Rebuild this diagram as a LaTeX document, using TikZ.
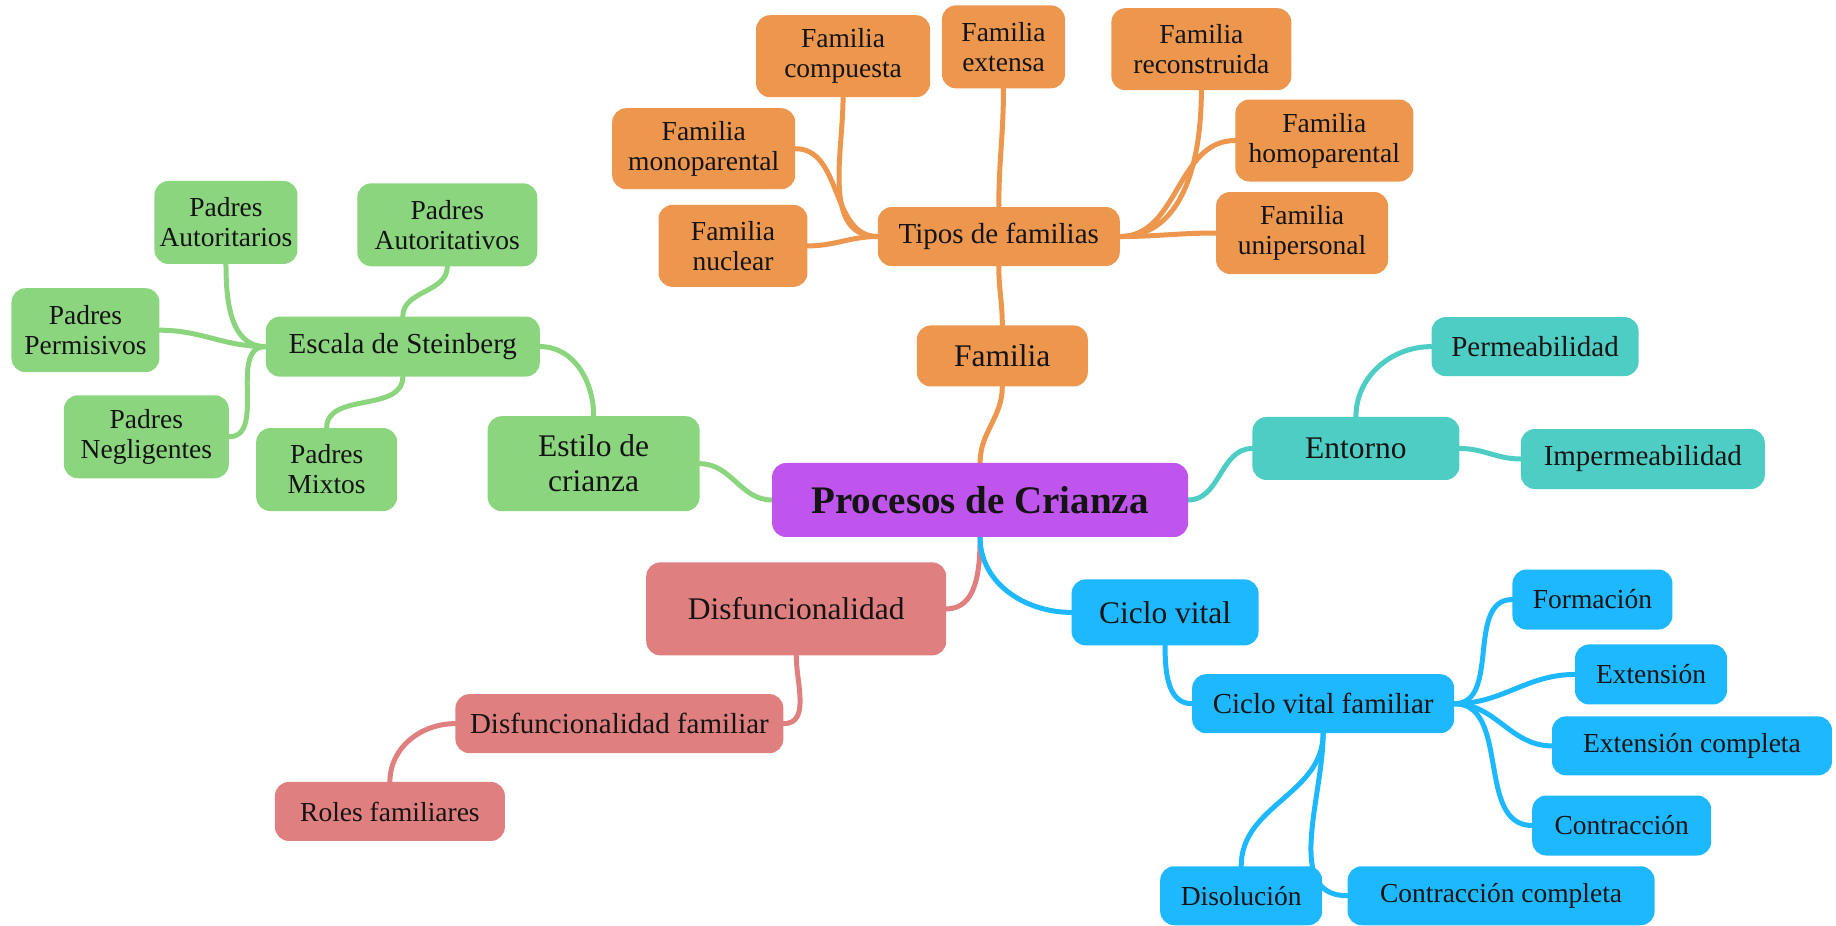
\documentclass[tikz,border=0pt]{standalone}
\usepackage{fontspec}
\setmainfont{Liberation Serif}
\usetikzlibrary{backgrounds}
\definecolor{cnaranja}{HTML}{EC964E}
\definecolor{cverde}{HTML}{8BD57E}
\definecolor{cmorado}{HTML}{BF55EC}
\definecolor{cturquesa}{HTML}{4ECDC4}
\definecolor{crojo}{HTML}{E07F7F}
\definecolor{cazul}{HTML}{1DB8FF}
\tikzset{
  caja/.style={rounded corners=14pt, inner sep=0pt, align=center, text=black!92},
  hoja/.style={caja, font=\fontsize{27.5}{30}\selectfont},
  rama2/.style={caja, font=\fontsize{29}{32}\selectfont},
  rama1/.style={caja, font=\fontsize{31.5}{35}\selectfont},
  tam/.style 2 args={minimum width=#1pt, minimum height=#2pt},
  linea/.style={line width=5pt, line cap=round},
}
\begin{document}
\begin{tikzpicture}[x=1.171pt,y=-1.171pt]
\useasboundingbox (0,0) rectangle (1568,790);

\node[caja, fill=cmorado, tam={416}{74}, font=\fontsize{39}{42}\selectfont\bfseries] (raiz) at (837,427) {Procesos de Crianza};

\node[rama1, fill=cnaranja, tam={171}{61}] (familia) at (856,304) {Familia};
\node[rama2, fill=cnaranja, tam={242}{59}] (tipos) at (853,202) {Tipos de familias};
\node[hoja, fill=cnaranja, tam={174}{82}] (compuesta) at (720,48) {Familia\\compuesta};
\node[hoja, fill=cnaranja, tam={123}{83}] (extensa) at (857,40) {Familia\\extensa};
\node[hoja, fill=cnaranja, tam={180}{82}] (reconstruida) at (1026,42) {Familia\\reconstruida};
\node[hoja, fill=cnaranja, tam={183}{81}] (monoparental) at (601,127) {Familia\\monoparental};
\node[hoja, fill=cnaranja, tam={178}{82}] (homoparental) at (1131,120) {Familia\\homoparental};
\node[hoja, fill=cnaranja, tam={149}{82}] (nuclear) at (626,210) {Familia\\nuclear};
\node[hoja, fill=cnaranja, tam={172}{82}] (unipersonal) at (1112,199) {Familia\\unipersonal};

\node[rama1, fill=cverde, tam={212}{95}] (estilo) at (507,396) {Estilo de\\crianza};
\node[rama2, fill=cverde, tam={274}{60}] (escala) at (344,296) {Escala de Steinberg};
\node[hoja, fill=cverde, tam={143}{83}] (autoritarios) at (193,190) {Padres\\Autoritarios};
\node[hoja, fill=cverde, tam={180}{83}] (autoritativos) at (382,192) {Padres\\Autoritativos};
\node[hoja, fill=cverde, tam={148}{84}] (permisivos) at (73,282) {Padres\\Permisivos};
\node[hoja, fill=cverde, tam={165}{83}] (negligentes) at (125,373) {Padres\\Negligentes};
\node[hoja, fill=cverde, tam={141}{83}] (mixtos) at (279,401) {Padres\\Mixtos};

\node[rama1, fill=cturquesa, tam={207}{63}] (entorno) at (1158,383) {Entorno};
\node[hoja, fill=cturquesa, tam={207}{59}, font=\fontsize{29}{32}\selectfont] (permeabilidad) at (1311,296) {Permeabilidad};
\node[hoja, fill=cturquesa, tam={244}{60}, font=\fontsize{29}{32}\selectfont] (impermeabilidad) at (1403,392) {Impermeabilidad};

\node[rama1, fill=crojo, tam={300}{93}] (disf) at (680,520) {Disfuncionalidad};
\node[rama2, fill=crojo, tam={328}{59}] (disffam) at (529,618) {Disfuncionalidad familiar};
\node[hoja, fill=crojo, tam={230}{59}] (roles) at (333,693) {Roles familiares};

\node[rama1, fill=cazul, tam={187}{66}] (ciclo) at (995,523) {Ciclo vital};
\node[rama2, fill=cazul, tam={262}{59}] (ciclofam) at (1130,601) {Ciclo vital familiar};
\node[hoja, fill=cazul, tam={160}{60}] (formacion) at (1360,512) {Formación};
\node[hoja, fill=cazul, tam={152}{60}] (extension) at (1410,576) {Extensión};
\node[hoja, fill=cazul, tam={280}{59}] (extcompleta) at (1445,637) {Extensión completa};
\node[hoja, fill=cazul, tam={179}{60}] (contraccion) at (1385,705) {Contracción};
\node[hoja, fill=cazul, tam={162}{59}] (disolucion) at (1060,765) {Disolución};
\node[hoja, fill=cazul, tam={307}{59}] (contcompleta) at (1282,765) {Contracción completa};

\begin{scope}[on background layer]
\draw[linea, cnaranja] (raiz.north) to[out=90,in=-90] (familia.south);
\draw[linea, cnaranja] (familia.north) to[out=90,in=-90] (tipos.south);
\draw[linea, cnaranja] (tipos.north) to[out=90,in=-90] (extensa.south);
\draw[linea, cnaranja] (tipos.west) to[out=180,in=-90] (compuesta.south);
\draw[linea, cnaranja] (tipos.west) to[out=180,in=0] (monoparental.east);
\draw[linea, cnaranja] (tipos.west) to[out=180,in=0] (nuclear.east);
\draw[linea, cnaranja] (tipos.east) to[out=0,in=-90] (reconstruida.south);
\draw[linea, cnaranja] (tipos.east) to[out=0,in=180] (homoparental.west);
\draw[linea, cnaranja] (tipos.east) to[out=0,in=180] (unipersonal.west);

\draw[linea, cverde] (raiz.west) to[out=180,in=0] (estilo.east);
\draw[linea, cverde] (estilo.north) to[out=90,in=0] (escala.east);
\draw[linea, cverde] (escala.north) to[out=90,in=-90] (autoritativos.south);
\draw[linea, cverde] (escala.south) to[out=-90,in=90] (mixtos.north);
\draw[linea, cverde] (escala.west) to[out=180,in=-90] (autoritarios.south);
\draw[linea, cverde] (escala.west) to[out=180,in=0] (permisivos.east);
\draw[linea, cverde] (escala.west) to[out=180,in=0] (negligentes.east);

\draw[linea, cturquesa] (raiz.east) to[out=0,in=180] (entorno.west);
\draw[linea, cturquesa] (entorno.north) to[out=90,in=180] (permeabilidad.west);
\draw[linea, cturquesa] (entorno.east) to[out=0,in=180] (impermeabilidad.west);

\draw[linea, crojo] (raiz.south) to[out=-90,in=0] (disf.east);
\draw[linea, crojo] (disf.south) to[out=-90,in=0] (disffam.east);
\draw[linea, crojo] (disffam.west) to[out=180,in=90] (roles.north);

\draw[linea, cazul] (raiz.south) to[out=-90,in=180] (ciclo.west);
\draw[linea, cazul] (ciclo.south) to[out=-90,in=180] (ciclofam.west);
\draw[linea, cazul] (ciclofam.east) to[out=0,in=180] (formacion.west);
\draw[linea, cazul] (ciclofam.east) to[out=0,in=180] (extension.west);
\draw[linea, cazul] (ciclofam.east) to[out=0,in=180] (extcompleta.west);
\draw[linea, cazul] (ciclofam.east) to[out=0,in=180] (contraccion.west);
\draw[linea, cazul] (ciclofam.south) to[out=-90,in=90] (disolucion.north);
\draw[linea, cazul] (ciclofam.south) to[out=-90,in=180] (contcompleta.west);
\end{scope}
\end{tikzpicture}
\end{document}
